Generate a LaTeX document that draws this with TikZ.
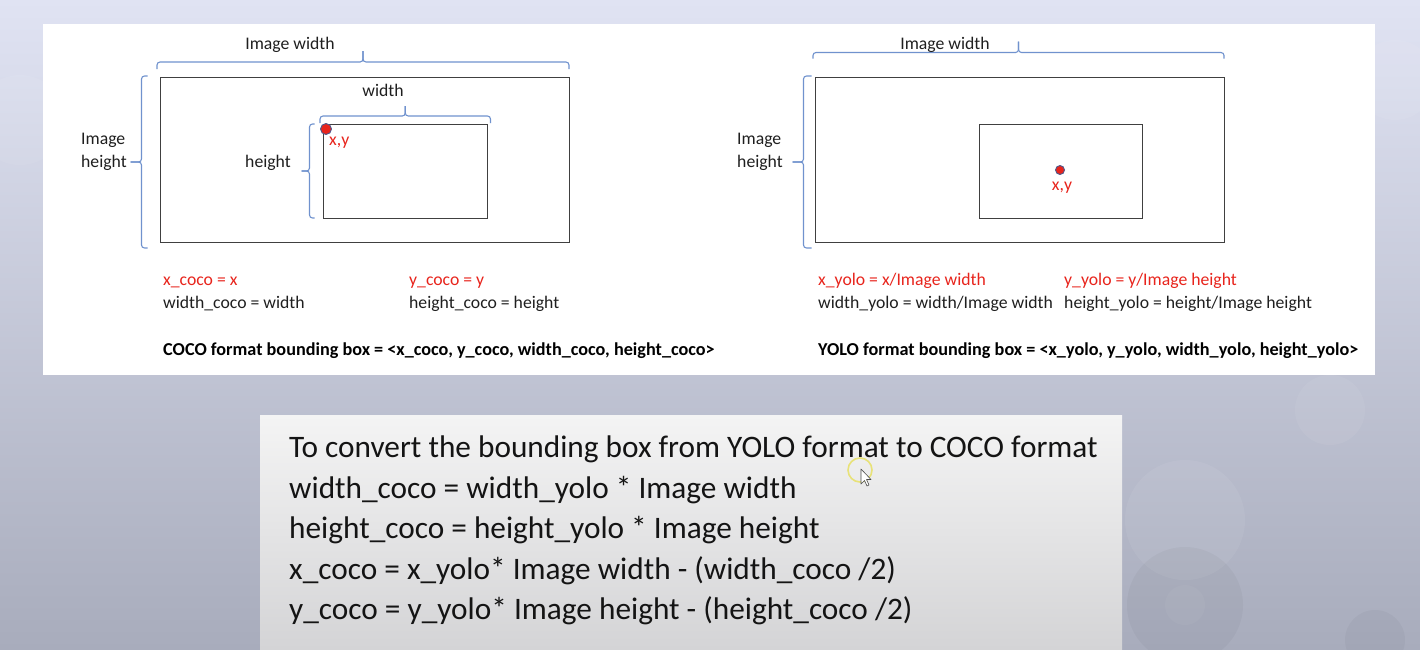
\documentclass[tikz,border=0pt]{standalone}
\usepackage{fontspec}
\setmainfont{Carlito}
\definecolor{bgtop}{RGB}{224,227,243}
\definecolor{bgbot}{RGB}{168,172,188}
\definecolor{boxtop}{RGB}{244,244,244}
\definecolor{boxbot}{RGB}{212,212,214}
\definecolor{markred}{RGB}{232,36,28}
\definecolor{bracecol}{RGB}{112,146,206}
\definecolor{framecol}{RGB}{64,64,64}
\definecolor{dotedge}{RGB}{80,90,140}
\definecolor{ringcol}{RGB}{232,226,120}

% horizontal bracket: x1, x2, line y, hook depth (down), tick height (up)
\newcommand\hbrk[5]{%
  \draw[bracket] (#1,#3+#4) -- (#1,#3) -- ({(#1+#2)/2},#3) -- ({(#1+#2)/2},#3-#5);
  \draw[bracket] ({(#1+#2)/2},#3-#5) -- ({(#1+#2)/2},#3) -- (#2,#3) -- (#2,#3+#4);}
% vertical bracket: line x, y1 (top), y2 (bottom), hook (right), tick (left)
\newcommand\vbrk[5]{%
  \draw[bracket] (#1+#4,#2) -- (#1,#2) -- (#1,{(#2+#3)/2}) -- (#1-#5,{(#2+#3)/2});
  \draw[bracket] (#1-#5,{(#2+#3)/2}) -- (#1,{(#2+#3)/2}) -- (#1,#3) -- (#1+#4,#3);}

\begin{document}
\begin{tikzpicture}[x=1pt,y=-1pt,
  small/.style={font=\fontsize{17.7}{20}\selectfont},
  lbl/.style={small, inner sep=0pt, text=black!88},
  redlbl/.style={small, inner sep=0pt, text=markred},
  boldlbl/.style={inner sep=0pt, text=black, font=\fontsize{18.2}{20}\selectfont\bfseries},
  biglbl/.style={inner sep=0pt, text=black!92, font=\fontsize{31.3}{34}\selectfont},
  frame/.style={draw=framecol, line width=1.2pt, inner sep=0pt, anchor=north west},
  bracket/.style={draw=bracecol, line width=1.1pt, rounded corners=3pt},
  dot/.style={circle, fill=markred, draw=dotedge, line width=0.9pt, inner sep=0pt}
]
\useasboundingbox (0,0) rectangle (1420,649);

% slide background with faint bokeh circles
\shade[top color=bgtop, bottom color=bgbot] (0,0) rectangle (1420,649);
\begin{scope}[white, opacity=0.06]
  \fill (20,120) circle (45);
  \fill (1395,80) circle (40);
  \fill (1330,410) circle (35);
  \fill (1185,520) circle (60);
\end{scope}
\begin{scope}[black, opacity=0.03]
  \fill (1185,605) circle (58);
  \fill (1375,640) circle (30);
\end{scope}
\begin{scope}[white, opacity=0.04]
  \fill (1185,605) circle (20);
\end{scope}

% white content panel
\fill[white] (43,24) rectangle (1375,375);

% ---------------- COCO side ----------------
\node[frame, minimum width=409pt, minimum height=165pt] (outerL) at (160,77) {};
\node[frame, minimum width=164pt, minimum height=94pt] (innerL) at (323,124) {};

\hbrk{157}{569}{62}{7}{11}
\vbrk{141.5}{76}{248}{6}{11}
\hbrk{320}{490.5}{116}{7}{10}
\vbrk{309.5}{124}{218}{5}{8}

\node[lbl, anchor=base] (iwL) at (290,49) {Image width};
\node[lbl, anchor=base west] (ihL) at (81,144) {Image};
\node[lbl, anchor=base west] (ihL2) at (81,167) {height};
\node[lbl, anchor=base] (wL) at (383,96) {width};
\node[lbl, anchor=base] (hL) at (268,167) {height};

\node[dot, minimum size=11pt] (ptL) at (326,129) {};
\node[redlbl, anchor=base west] (xyL) at (329,145) {x,y};

\node[redlbl, anchor=base west] (c1) at (163,285) {x\_coco = x};
\node[lbl, anchor=base west] (c2) at (163,308) {width\_coco = width};
\node[redlbl, anchor=base west] (c3) at (409,285) {y\_coco = y};
\node[lbl, anchor=base west] (c4) at (409,308) {height\_coco = height};
\node[boldlbl, anchor=base west] (c5) at (163,355)
  {COCO format bounding box = <x\_coco, y\_coco, width\_coco, height\_coco>};

% ---------------- YOLO side ----------------
\node[frame, minimum width=409pt, minimum height=165pt] (outerR) at (815,77) {};
\node[frame, minimum width=163pt, minimum height=94pt] (innerR) at (979,124) {};

\hbrk{813}{1224}{52.5}{6}{11}
\vbrk{803.5}{76}{248}{8}{11}

\node[lbl, anchor=base] (iwR) at (945,49) {Image width};
\node[lbl, anchor=base west] (ihR) at (737,144) {Image};
\node[lbl, anchor=base west] (ihR2) at (737,167) {height};

\node[dot, minimum size=9pt] (ptR) at (1060,170) {};
\node[redlbl, anchor=base] (xyR) at (1062,190) {x,y};

\node[redlbl, anchor=base west] (y1) at (818,285) {x\_yolo = x/Image width};
\node[lbl, anchor=base west] (y2) at (818,308) {width\_yolo = width/Image width};
\node[redlbl, anchor=base west] (y3) at (1064,285) {y\_yolo = y/Image height};
\node[lbl, anchor=base west] (y4) at (1064,308) {height\_yolo = height/Image height};
\node[boldlbl, anchor=base west] (y5) at (818,355)
  {YOLO format bounding box = <x\_yolo, y\_yolo, width\_yolo, height\_yolo>};

% ---------------- conversion box ----------------
\shade[top color=boxtop, bottom color=boxbot] (260,415) rectangle (1122,649);
\node[biglbl, anchor=base west] (t1) at (289,457) {To convert the bounding box from YOLO format to COCO format};
\node[biglbl, anchor=base west] (t2) at (289,498) {width\_coco = width\_yolo * Image width};
\node[biglbl, anchor=base west] (t3) at (289,538) {height\_coco = height\_yolo * Image height};
\node[biglbl, anchor=base west] (t4) at (289,579) {x\_coco = x\_yolo* Image width - (width\_coco /2)};
\node[biglbl, anchor=base west] (t5) at (289,619) {y\_coco = y\_yolo* Image height - (height\_coco /2)};

% pointer highlight
\draw[ringcol, line width=1.6pt] (860,470) circle (12);
\draw[black!70, fill=white, line width=0.6pt, line join=round]
  (861,469) -- (861,484) -- (864.5,480.5) -- (867,486) -- (869,485) -- (866.5,479.5) -- (871,479.5) -- cycle;
\end{tikzpicture}
\end{document}
